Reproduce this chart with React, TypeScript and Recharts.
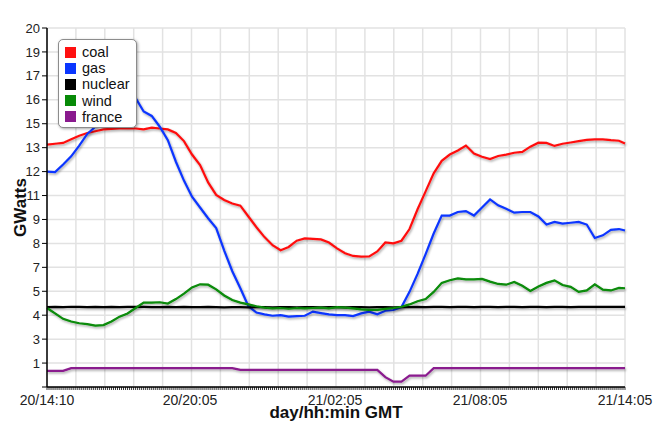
import React from 'react';
import { LineChart, Line, XAxis, YAxis, CartesianGrid, Legend } from 'recharts';

// sample positions, in 5-minute steps from 20/14:10
const sampleIdx = [
  0, 4, 8, 12, 16, 20, 24, 28,
  32, 36, 40, 44, 48, 52, 56, 60,
  64, 68, 72, 76, 80, 84, 88, 92,
  96, 100, 104, 108, 112, 116, 120, 124,
  128, 132, 136, 140, 144, 148, 152, 156,
  160, 164, 168, 172, 176, 180, 184, 188,
  192, 196, 200, 204, 208, 212, 216, 220,
  224, 228, 232, 236, 240, 244, 248, 252,
  256, 260, 264, 268, 272, 276, 280, 284,
  287,
];

const coal = [
  13.5, 13.55, 13.6, 13.8, 14.0, 14.15, 14.25, 14.35,
  14.38, 14.4, 14.42, 14.4, 14.35, 14.45, 14.4, 14.35,
  14.15, 13.7, 12.95, 12.37, 11.4, 10.7, 10.42, 10.22,
  10.1, 9.5, 8.9, 8.35, 7.9, 7.62, 7.8, 8.15,
  8.28, 8.25, 8.22, 8.05, 7.72, 7.45, 7.3, 7.26,
  7.28, 7.55, 8.05, 8.0, 8.15, 8.8, 9.9, 10.9,
  11.9, 12.6, 12.95, 13.18, 13.45, 13.0, 12.83, 12.7,
  12.87, 12.95, 13.05, 13.1, 13.39, 13.61, 13.6, 13.43,
  13.55, 13.62, 13.7, 13.77, 13.8, 13.8, 13.75, 13.72,
  13.57,
];

const gas = [
  12.0, 11.97, 12.4, 12.85, 13.45, 14.1, 14.5, 14.9,
  15.3, 15.7, 16.0, 16.1, 15.35, 15.1, 14.5, 13.75,
  12.55, 11.5, 10.6, 10.0, 9.4, 8.85, 7.6, 6.45,
  5.5, 4.5, 4.15, 4.05, 3.97, 4.0, 3.92, 3.95,
  3.97, 4.2, 4.12, 4.05, 4.0, 4.0, 3.95, 4.1,
  4.2, 4.05, 4.25, 4.29, 4.45, 5.3, 6.3, 7.4,
  8.55, 9.55, 9.55, 9.75, 9.8, 9.55, 10.0, 10.45,
  10.12, 9.93, 9.71, 9.75, 9.75, 9.5, 9.05, 9.2,
  9.1, 9.15, 9.2, 9.05, 8.3, 8.45, 8.75, 8.8,
  8.72,
];

const nuclear = [
  4.45, 4.46, 4.45, 4.47, 4.46, 4.45, 4.46, 4.45,
  4.46, 4.45, 4.46, 4.47, 4.46, 4.45, 4.45, 4.46,
  4.45, 4.46, 4.45, 4.45, 4.46, 4.45, 4.44, 4.45,
  4.45, 4.44, 4.45, 4.45, 4.44, 4.45, 4.45, 4.44,
  4.45, 4.45, 4.44, 4.45, 4.45, 4.44, 4.45, 4.45,
  4.44, 4.45, 4.45, 4.44, 4.45, 4.45, 4.46, 4.45,
  4.46, 4.46, 4.45, 4.46, 4.46, 4.45, 4.46, 4.46,
  4.45, 4.46, 4.46, 4.45, 4.46, 4.46, 4.45, 4.46,
  4.46, 4.45, 4.46, 4.46, 4.47, 4.46, 4.46, 4.46,
  4.46,
];

const wind = [
  4.4, 4.1, 3.8, 3.65, 3.55, 3.5, 3.42, 3.45,
  3.65, 3.92, 4.1, 4.4, 4.7, 4.7, 4.72, 4.65,
  4.9, 5.2, 5.55, 5.72, 5.7, 5.44, 5.1, 4.85,
  4.7, 4.6, 4.5, 4.42, 4.38, 4.4, 4.36, 4.4,
  4.38, 4.4, 4.42, 4.38, 4.45, 4.42, 4.38, 4.32,
  4.3, 4.3, 4.35, 4.4, 4.47, 4.6, 4.78, 4.9,
  5.3, 5.8, 5.95, 6.05, 6.0, 6.0, 6.02, 5.87,
  5.74, 5.7, 5.85, 5.64, 5.35, 5.6, 5.8, 5.94,
  5.68, 5.58, 5.3, 5.38, 5.72, 5.42, 5.38, 5.52,
  5.5,
];

const france = [
  0.9, 0.9, 0.9, 1.05, 1.05, 1.05, 1.05, 1.05,
  1.05, 1.05, 1.05, 1.05, 1.05, 1.05, 1.05, 1.05,
  1.05, 1.05, 1.05, 1.05, 1.05, 1.05, 1.05, 1.05,
  0.95, 0.95, 0.95, 0.95, 0.95, 0.95, 0.95, 0.95,
  0.95, 0.95, 0.95, 0.95, 0.95, 0.95, 0.95, 0.95,
  0.95, 0.95, 0.55, 0.3, 0.3, 0.63, 0.63, 0.63,
  1.05, 1.05, 1.05, 1.05, 1.05, 1.05, 1.05, 1.05,
  1.05, 1.05, 1.05, 1.05, 1.05, 1.05, 1.05, 1.05,
  1.05, 1.05, 1.05, 1.05, 1.05, 1.05, 1.05, 1.05,
  1.05,
];

const seriesNames = ['coal', 'gas', 'nuclear', 'wind', 'france'];
const seriesColors = ['#ff1010', '#0a36ff', '#000000', '#078a07', '#8a1a8e'];

const xLabelIdx = [0, 71, 143, 215, 287];
const xLabels = ['20/14:10', '20/20:05', '21/02:05', '21/08:05', '21/14:05'];
const yTicks = [0, 4 / 3, 8 / 3, 4, 16 / 3, 20 / 3, 8, 28 / 3, 32 / 3, 12, 40 / 3, 44 / 3, 16, 52 / 3, 56 / 3, 20];

const seriesValues = [coal, gas, nuclear, wind, france];
const data = sampleIdx.map((t, i) => {
  const row: any = { t };
  seriesNames.forEach((n, k) => { row[n] = seriesValues[k][i]; });
  return row;
});

const minorTicks = Array.from({ length: 288 }, (_, i) => i);
const FONT = '"Liberation Sans", Arial, Helvetica, sans-serif';

const XTick = (props: any) => {
  const { x, y, payload } = props;
  const k = xLabelIdx.indexOf(payload.value);
  if (k < 0) return <g />;
  return (
    <text x={x} y={y + 15} textAnchor="middle" fontSize={14} fill="#222" fontFamily={FONT}>
      {xLabels[k]}
    </text>
  );
};

const LegendBox = () => (
  <div
    style={{
      border: '1px solid #8c8c8c',
      borderRadius: 5,
      background: '#fff',
      boxShadow: '1px 1px 3px rgba(0,0,0,0.35)',
      padding: '4px 6px 2px 6px',
      fontFamily: FONT,
      fontSize: 14.5,
      lineHeight: '16.2px',
      color: '#111',
    }}
  >
    {seriesNames.map((n, i) => (
      <div key={n} style={{ display: 'flex', alignItems: 'center', whiteSpace: 'nowrap' }}>
        <span style={{ width: 11, height: 11, background: seriesColors[i], marginRight: 6, display: 'inline-block' }} />
        {n}
      </div>
    ))}
  </div>
);

const YLabel = (props: any) => {
  const vb = props.viewBox || { x: 0, y: 28, width: 47, height: 359 };
  const cx = vb.x + 20;
  const cy = vb.y + vb.height / 2;
  return (
    <text
      x={cx}
      y={cy}
      transform={`rotate(-90, ${cx}, ${cy})`}
      textAnchor="middle"
      dominantBaseline="central"
      fontSize={17}
      fontWeight="bold"
      fill="#111"
      fontFamily={FONT}
    >
      GWatts
    </text>
  );
};

const XLabel = (props: any) => {
  const vb = props.viewBox || { x: 47, y: 387, width: 578, height: 46 };
  return (
    <text
      x={vb.x + vb.width / 2}
      y={vb.y + 31}
      textAnchor="middle"
      fontSize={17}
      fontWeight="bold"
      fill="#111"
      fontFamily={FONT}
    >
      day/hh:min GMT
    </text>
  );
};

export default function App() {
  return (
    <div style={{ position: 'absolute', left: 0, top: 0, width: 669, height: 433, background: '#fff' }}>
      <LineChart
        width={669}
        height={433}
        data={data}
        margin={{ top: 28, right: 44, left: 0, bottom: 0 }}
        style={{ fontFamily: FONT }}
      >
        <defs>
          <filter id="lineShadow" filterUnits="userSpaceOnUse" x="0" y="0" width="669" height="433">
            <feDropShadow dx="1" dy="1.5" stdDeviation="1" floodColor="#000" floodOpacity="0.35" />
          </filter>
        </defs>
        <CartesianGrid
          stroke="#e2e2e2"
          strokeWidth={1.5}
          verticalCoordinatesGenerator={({ offset }: any) =>
            Array.from({ length: 21 }, (_, i) => offset.left + (i * offset.width) / 20)
          }
        />
        <XAxis
          dataKey="t"
          type="number"
          domain={[0, 287]}
          ticks={minorTicks}
          interval={0}
          tick={<XTick />}
          tickSize={3}
          tickMargin={0}
          height={46}
          axisLine={{ stroke: '#000', strokeWidth: 1.5 }}
          tickLine={{ stroke: '#000', strokeWidth: 0.8 }}
          label={<XLabel />}
        />
        <YAxis
          type="number"
          domain={[0, 20]}
          ticks={yTicks}
          interval={0}
          width={47}
          tickSize={5}
          tickMargin={2}
          tickFormatter={(v: number) => (v === 0 ? '' : String(Math.round(v)))}
          tick={{ fill: '#222', fontSize: 13, fontFamily: FONT }}
          axisLine={{ stroke: '#000', strokeWidth: 1.5 }}
          tickLine={{ stroke: '#000' }}
          label={<YLabel />}
        />
        <Legend
          layout="vertical"
          align="center"
          verticalAlign="middle"
          content={<LegendBox />}
          wrapperStyle={{ left: 58, top: 39, width: 'auto', height: 'auto' }}
        />
        {seriesNames.map((n, i) => (
          <Line
            key={n}
            type="linear"
            dataKey={n}
            name={n}
            stroke={seriesColors[i]}
            strokeWidth={2.2}
            dot={false}
            activeDot={false}
            isAnimationActive={false}
            filter="url(#lineShadow)"
          />
        ))}
      </LineChart>
    </div>
  );
}
